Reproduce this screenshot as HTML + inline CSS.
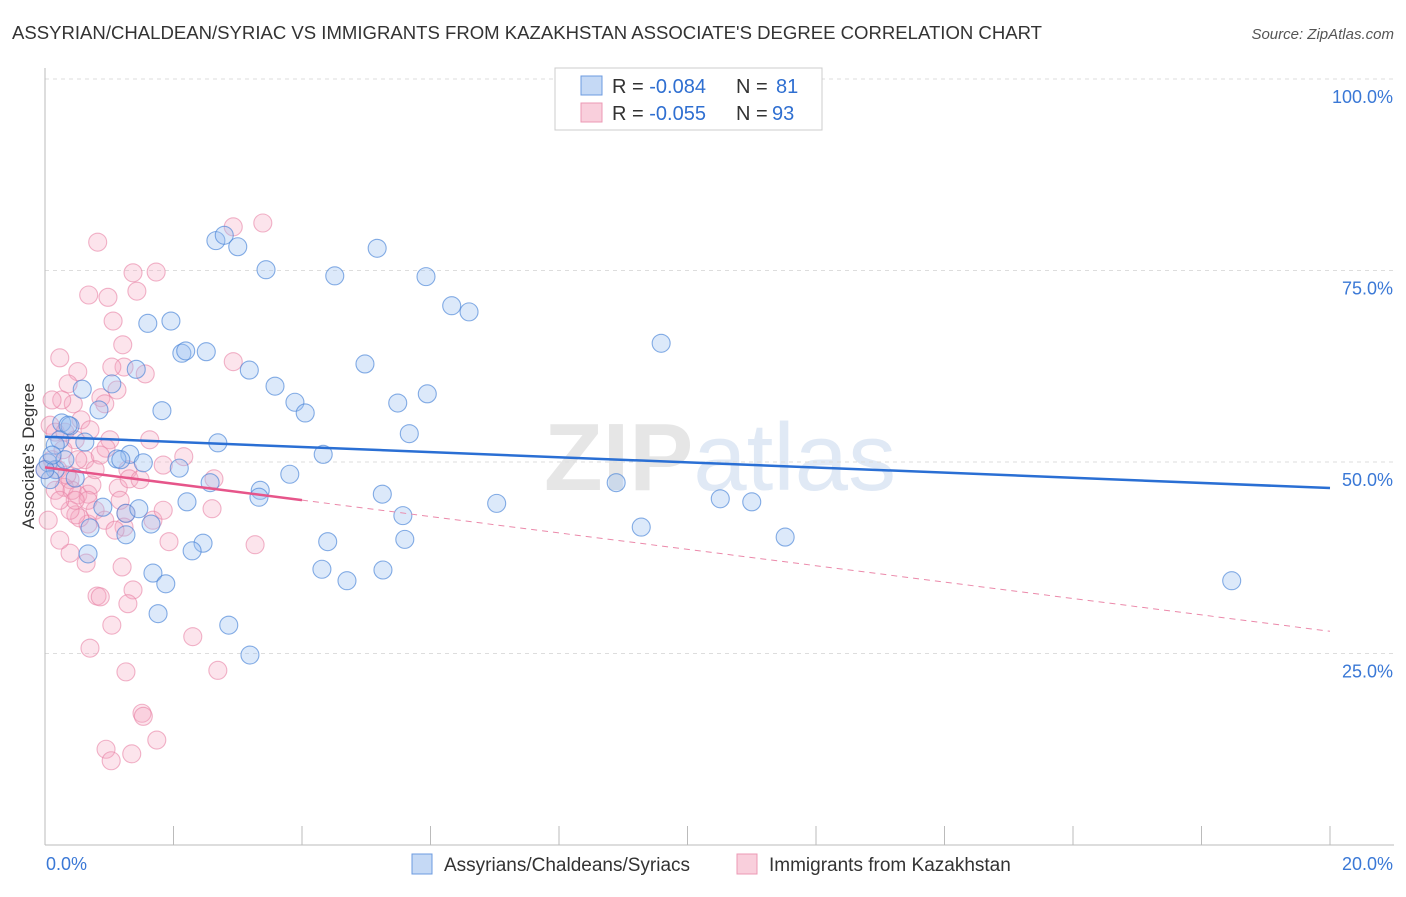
<!DOCTYPE html>
<html><head><meta charset="utf-8"><style>
body{margin:0;background:#fff;font-family:"Liberation Sans",sans-serif;}
svg text{font-family:"Liberation Sans",sans-serif;}
</style></head><body>
<svg id="chart" width="1406" height="892" xmlns="http://www.w3.org/2000/svg">
<text x="12" y="39" font-size="18" fill="#333" textLength="1030" lengthAdjust="spacingAndGlyphs">ASSYRIAN/CHALDEAN/SYRIAC VS IMMIGRANTS FROM KAZAKHSTAN ASSOCIATE'S DEGREE CORRELATION CHART</text>
<text x="1394" y="39" font-size="15" fill="#555" font-style="italic" text-anchor="end">Source: ZipAtlas.com</text>
<text x="720" y="490" font-size="96" fill="#e6e6e6" text-anchor="middle" font-family="Liberation Serif"><tspan font-weight="bold">ZIP</tspan><tspan fill="#e0e9f5" font-family="Liberation Sans">atlas</tspan></text>
<g id="grid"></g>
<g id="axes"></g>
<g id="pts"></g>
<g id="trends"></g>
<text transform="translate(34,456) rotate(-90)" font-size="17" fill="#333" text-anchor="middle">Associate's Degree</text>
<g>
<rect x="555" y="68" width="267" height="62" fill="#fff" stroke="#ccc"/>
<rect x="581" y="76" width="21" height="19" fill="#c5d9f5" stroke="#6c9be0"/>
<rect x="581" y="103" width="21" height="19" fill="#f9cfdc" stroke="#ec99b4"/>
<text x="612" y="93" font-size="20" fill="#333">R = <tspan fill="#2f6fd1">-0.084</tspan></text>
<text x="736" y="93" font-size="20" fill="#333">N = </text><text x="776" y="93" font-size="20" fill="#2f6fd1">81</text>
<text x="612" y="120" font-size="20" fill="#333">R = <tspan fill="#2f6fd1">-0.055</tspan></text>
<text x="736" y="120" font-size="20" fill="#333">N = </text><text x="772" y="120" font-size="20" fill="#2f6fd1">93</text>
</g>
<g>
<rect x="412" y="854" width="20" height="20" fill="#c5d9f5" stroke="#6c9be0"/>
<text x="444" y="871" font-size="19" fill="#333">Assyrians/Chaldeans/Syriacs</text>
<rect x="737" y="854" width="20" height="20" fill="#f9cfdc" stroke="#ec99b4"/>
<text x="769" y="871" font-size="19" fill="#333">Immigrants from Kazakhstan</text>
</g>
</svg>
<script>
const xTicks=[0,20];
const yTicks=[25,50,75,100];
const blueX=[2.66,2.79,3.00,3.44,4.51,5.17,5.93,6.33,6.60,9.59,1.60,1.96,2.13,2.19,2.51,3.18,4.98,1.42,1.04,0.58,1.82,0.84,3.58,3.89,4.05,5.49,5.95,5.67,2.69,0.26,0.39,0.62,1.32,1.12,1.18,1.53,2.09,4.33,3.81,2.57,3.35,3.33,5.25,7.03,8.89,10.51,11.00,9.28,11.52,18.47,2.21,0.90,1.26,1.46,1.65,1.26,0.70,2.46,2.29,4.40,5.60,5.57,0.67,1.68,1.88,4.31,4.70,5.26,1.76,2.86,3.19,0.05,0.16,0.08,0.31,0.47,0.23,0.36,0.16,0.00,0.11];
const blueY=[78.9,79.6,78.1,75.1,74.3,77.9,74.2,70.4,69.6,65.5,68.1,68.4,64.2,64.5,64.4,62.0,62.8,62.1,60.2,59.5,56.7,56.8,59.9,57.8,56.4,57.7,58.9,53.7,52.5,55.1,54.7,52.6,51.0,50.4,50.3,49.9,49.2,51.0,48.4,47.3,46.3,45.4,45.8,44.6,47.3,45.2,44.8,41.5,40.2,34.5,44.8,44.1,43.3,43.9,41.9,40.5,41.4,39.4,38.4,39.6,39.9,43.0,38.0,35.5,34.1,36.0,34.5,35.9,30.2,28.7,24.8,49.9,49.0,47.7,50.3,47.9,52.9,54.8,52.2,49.0,50.9];
const pinkX=[0.82,2.93,3.39,1.37,1.73,0.68,0.98,1.43,1.06,0.23,1.21,1.23,1.04,1.56,0.87,1.12,0.51,2.93,0.93,0.36,0.44,0.26,0.56,0.08,0.16,0.31,0.47,0.28,0.11,0.20,1.01,0.95,0.00,0.39,0.30,0.51,0.67,0.73,1.14,1.29,1.31,1.84,2.16,2.63,1.26,1.68,0.67,0.78,0.54,0.48,0.42,0.67,1.23,1.84,2.60,1.93,3.27,0.39,0.64,1.20,0.81,0.86,1.37,1.29,1.04,2.30,0.70,1.26,2.69,1.51,1.53,1.74,0.95,1.03,1.35,0.05,0.23,0.62,0.86,0.34,0.16,0.39,1.17,1.48,1.63,0.11,0.70,0.47,0.23,0.51,0.78,0.93,1.09];
const pinkY=[78.7,80.7,81.2,74.7,74.8,71.8,71.5,72.3,68.4,63.6,65.3,62.4,62.4,61.5,58.4,59.4,61.8,63.1,57.6,60.2,57.6,58.1,55.5,54.8,53.9,53.9,52.9,51.6,50.3,49.0,52.9,51.8,49.0,47.7,46.7,45.7,45.8,47.0,46.6,49.0,47.8,49.6,50.7,47.8,43.3,42.4,41.9,43.7,42.7,43.1,46.3,45.0,41.5,43.7,43.9,39.6,39.2,38.1,36.8,36.3,32.5,32.4,33.3,31.5,28.7,27.2,25.7,22.6,22.8,17.2,16.8,13.7,12.5,11.0,11.9,42.4,39.8,50.3,50.9,48.3,46.3,43.7,45.0,47.7,52.9,58.1,54.2,45.0,45.0,50.3,49.0,42.4,41.1];
const blueTrend=[53.3,46.6];
const pinkTrend=[49.3,27.9];
const pinkSolidEnd=4.0;
const NS='http://www.w3.org/2000/svg';
const X0=45,X1=1330,YT=79,YB=845;
function sx(v){return X0+(v/20)*(X1-X0);}
function sy(v){return YB-(v/100)*(YB-YT);}
function mk(tag,attrs,parent){const e=document.createElementNS(NS,tag);for(const k in attrs)e.setAttribute(k,attrs[k]);parent.appendChild(e);return e;}
const grid=document.getElementById('grid'),axes=document.getElementById('axes'),pts=document.getElementById('pts'),tr=document.getElementById('trends');
yTicks.forEach(t=>{
 const l=mk('line',{x1:X0,x2:1394,y1:sy(t),y2:sy(t),stroke:'#ddd','stroke-dasharray':'4,4'},grid);
 
 
 const tx=mk('text',{x:1393,y:sy(t)+24,'font-size':18,fill:'#3a78d6','text-anchor':'end'},axes);
 tx.textContent=t.toFixed(1)+'%';
 
 
});
const ax=mk('line',{x1:X0,x2:X0,y1:68,y2:YB,stroke:'#bbb'},axes);


const bx=mk('line',{x1:X0,x2:1394,y1:YB,y2:YB,stroke:'#bbb'},axes);


for(let i=0;i<=10;i++){
 const tk=mk('line',{x1:sx(i*2),x2:sx(i*2),y1:826,y2:YB,stroke:'#bbb'},axes);
 
 
}
xTicks.forEach((t,i)=>{
 const tx=mk('text',{x:i==0?46:1393,y:870,'font-size':18,fill:'#3a78d6','text-anchor':i==0?'start':'end'},axes);
 tx.textContent=t.toFixed(1)+'%';
 
 
});
function dots(xs,ys,fill,stroke,name){
 xs.forEach((x,i)=>{
  const c=mk('circle',{cx:sx(x),cy:sy(ys[i]),r:9,fill:fill,stroke:stroke,'stroke-width':1.1},pts);
  
  
 });
}
dots(pinkX,pinkY,'rgba(244,165,192,0.3)','rgba(232,130,165,0.6)','kazakhstan-point');
dots(blueX,blueY,'rgba(155,192,240,0.35)','rgba(70,130,215,0.65)','assyrian-point');
const bl=mk('line',{x1:sx(0),y1:sy(blueTrend[0]),x2:sx(20),y2:sy(blueTrend[1]),stroke:'#2a6fd4','stroke-width':2.5},tr);


const pAt=x=>pinkTrend[0]+(pinkTrend[1]-pinkTrend[0])*x/20;
const ps=mk('line',{x1:sx(0),y1:sy(pinkTrend[0]),x2:sx(pinkSolidEnd),y2:sy(pAt(pinkSolidEnd)),stroke:'#e6558a','stroke-width':2.5},tr);


const pd=mk('line',{x1:sx(pinkSolidEnd),y1:sy(pAt(pinkSolidEnd)),x2:sx(20),y2:sy(pinkTrend[1]),stroke:'#eb89aa','stroke-width':1,'stroke-dasharray':'6,5'},tr);


</script>
</body></html>
